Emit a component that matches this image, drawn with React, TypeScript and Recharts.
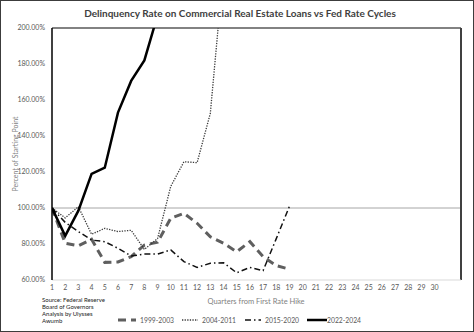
import React from 'react';
import { LineChart, Line, XAxis, YAxis, ReferenceLine } from 'recharts';

// quarters since the first rate hike
const quarters = [1, 2, 3, 4, 5, 6, 7, 8, 9, 10, 11, 12, 13, 14, 15, 16, 17, 18, 19];
const xTicks = [
  1, 2, 3, 4, 5, 6, 7, 8, 9, 10, 11, 12, 13, 14, 15, 16, 17, 18, 19, 20, 21, 22, 23, 24, 25, 26,
  27, 28, 29, 30,
];
const yTicks = [60, 80, 100, 120, 140, 160, 180, 200];

// percent of starting point
const cycle1999 = [100, 80.4, 79, 82.6, 69.8, 70, 73, 79.4, 81, 94.3, 97, 91.5, 84, 80.4, 75.7, 81.3, 73, 68, 66];
const cycle2004 = [100, 94.5, 100.7, 85.4, 88.7, 86.9, 87.6, 77, 83, 112, 125.7, 125.2, 152.6, 233];
const cycle2015 = [100, 92, 86.9, 82.2, 81.3, 77.6, 73.3, 74.4, 74.4, 76.7, 70.2, 67, 69.3, 69.6, 64, 67, 65.2, 83, 101];
const cycle2022 = [100, 84.5, 98.5, 119, 122.4, 153, 170.6, 182, 207];

const series = [
  { key: 'c1999', name: '1999-2003', values: cycle1999, stroke: '#5f5f5f', width: 3, dash: '8 5' },
  { key: 'c2004', name: '2004-2011', values: cycle2004, stroke: '#3a3a3a', width: 1.3, dash: '1.3 1.3' },
  { key: 'c2015', name: '2015-2020', values: cycle2015, stroke: '#111111', width: 1.5, dash: '6 3 1.5 3' },
  { key: 'c2022', name: '2022-2024', values: cycle2022, stroke: '#000000', width: 2.5, dash: undefined },
];

// legend placement (left edge of icon, icon length)
const legendPos = [
  { left: 118, icon: 18 },
  { left: 182, icon: 16 },
  { left: 245, icon: 16 },
  { left: 307, icon: 20 },
];

const data = quarters.map((q, i) => {
  const row: any = { q };
  series.forEach((s) => {
    row[s.key] = i < s.values.length ? s.values[i] : null;
  });
  return row;
});

const font = 'Lato, "Open Sans", sans-serif';

export default function App() {
  return (
    <div
      style={{
        position: 'absolute',
        left: 0,
        top: 0,
        width: 474,
        height: 332,
        background: '#fff',
        fontFamily: font,
      }}
    >
      <div
        style={{
          position: 'absolute',
          left: 240,
          top: 12.5,
          transform: 'translate(-50%, -50%)',
          whiteSpace: 'nowrap',
          fontSize: 10,
          fontWeight: 700,
          color: '#404040',
        }}
      >
        Delinquency Rate on Commercial Real Estate Loans vs Fed Rate Cycles
      </div>

      <LineChart width={474} height={332} data={data} margin={{ top: 28, right: 13, bottom: 32, left: 0 }}>
        <XAxis
          dataKey="q"
          type="number"
          domain={[1, 32]}
          ticks={xTicks}
          interval={0}
          allowDataOverflow
          height={20}
          tickSize={0}
          tickMargin={5}
          tickLine={false}
          axisLine={{ stroke: '#d9d9d9', strokeWidth: 1 }}
          tick={{ fontSize: 7, fill: '#595959', fontFamily: font }}
        />
        <YAxis
          domain={[60, 200]}
          ticks={yTicks}
          allowDataOverflow
          width={52}
          tickSize={0}
          tickMargin={7}
          tickLine={false}
          axisLine={{ stroke: '#000', strokeWidth: 1.5 }}
          tick={{ fontSize: 7, fill: '#595959', fontFamily: font }}
          tickFormatter={(v: number) => `${v.toFixed(2)}%`}
        />
        <ReferenceLine y={100} stroke="#a6a6a6" strokeWidth={1} />
        <ReferenceLine y={200} stroke="#595959" strokeWidth={1.5} />
        <ReferenceLine x={32} stroke="#404040" strokeWidth={2} />
        {series.map((s) => (
          <Line
            key={s.key}
            dataKey={s.key}
            name={s.name}
            type="linear"
            stroke={s.stroke}
            strokeWidth={s.width}
            strokeDasharray={s.dash}
            dot={false}
            connectNulls={false}
            isAnimationActive={false}
          />
        ))}
      </LineChart>

      <div
        style={{
          position: 'absolute',
          left: 15,
          top: 154,
          transform: 'translate(-50%, -50%) rotate(-90deg)',
          whiteSpace: 'nowrap',
          fontSize: 7,
          color: '#7f7f7f',
        }}
      >
        Percent of Starting Point
      </div>

      <div
        style={{
          position: 'absolute',
          left: 256,
          top: 301,
          transform: 'translate(-50%, -50%)',
          whiteSpace: 'nowrap',
          fontSize: 7.5,
          color: '#7f7f7f',
        }}
      >
        Quarters from First Rate Hike
      </div>

      <div
        style={{
          position: 'absolute',
          left: 42,
          top: 297,
          fontSize: 6,
          lineHeight: '6.9px',
          color: '#1a1a1a',
        }}
      >
        Source: Federal Reserve
        <br />
        Board of Governors
        <br />
        Analysis by Ulysses
        <br />
        Awumb
      </div>

      {series.map((s, i) => (
        <div
          key={s.key}
          style={{
            position: 'absolute',
            left: legendPos[i].left,
            top: 316,
            display: 'flex',
            alignItems: 'center',
            fontSize: 6.8,
            color: '#595959',
            whiteSpace: 'nowrap',
          }}
        >
          <svg width={legendPos[i].icon} height={8}>
            <line
              x1={0}
              y1={4}
              x2={legendPos[i].icon}
              y2={4}
              stroke={s.stroke}
              strokeWidth={s.width}
              strokeDasharray={s.dash}
            />
          </svg>
          <span style={{ marginLeft: i === 3 ? 0 : 4 }}>{s.name}</span>
        </div>
      ))}

      <div
        style={{
          position: 'absolute',
          left: 0,
          top: 0,
          width: 474,
          height: 332,
          boxSizing: 'border-box',
          border: '1.5px solid #3c3c3c',
          pointerEvents: 'none',
        }}
      />
    </div>
  );
}
